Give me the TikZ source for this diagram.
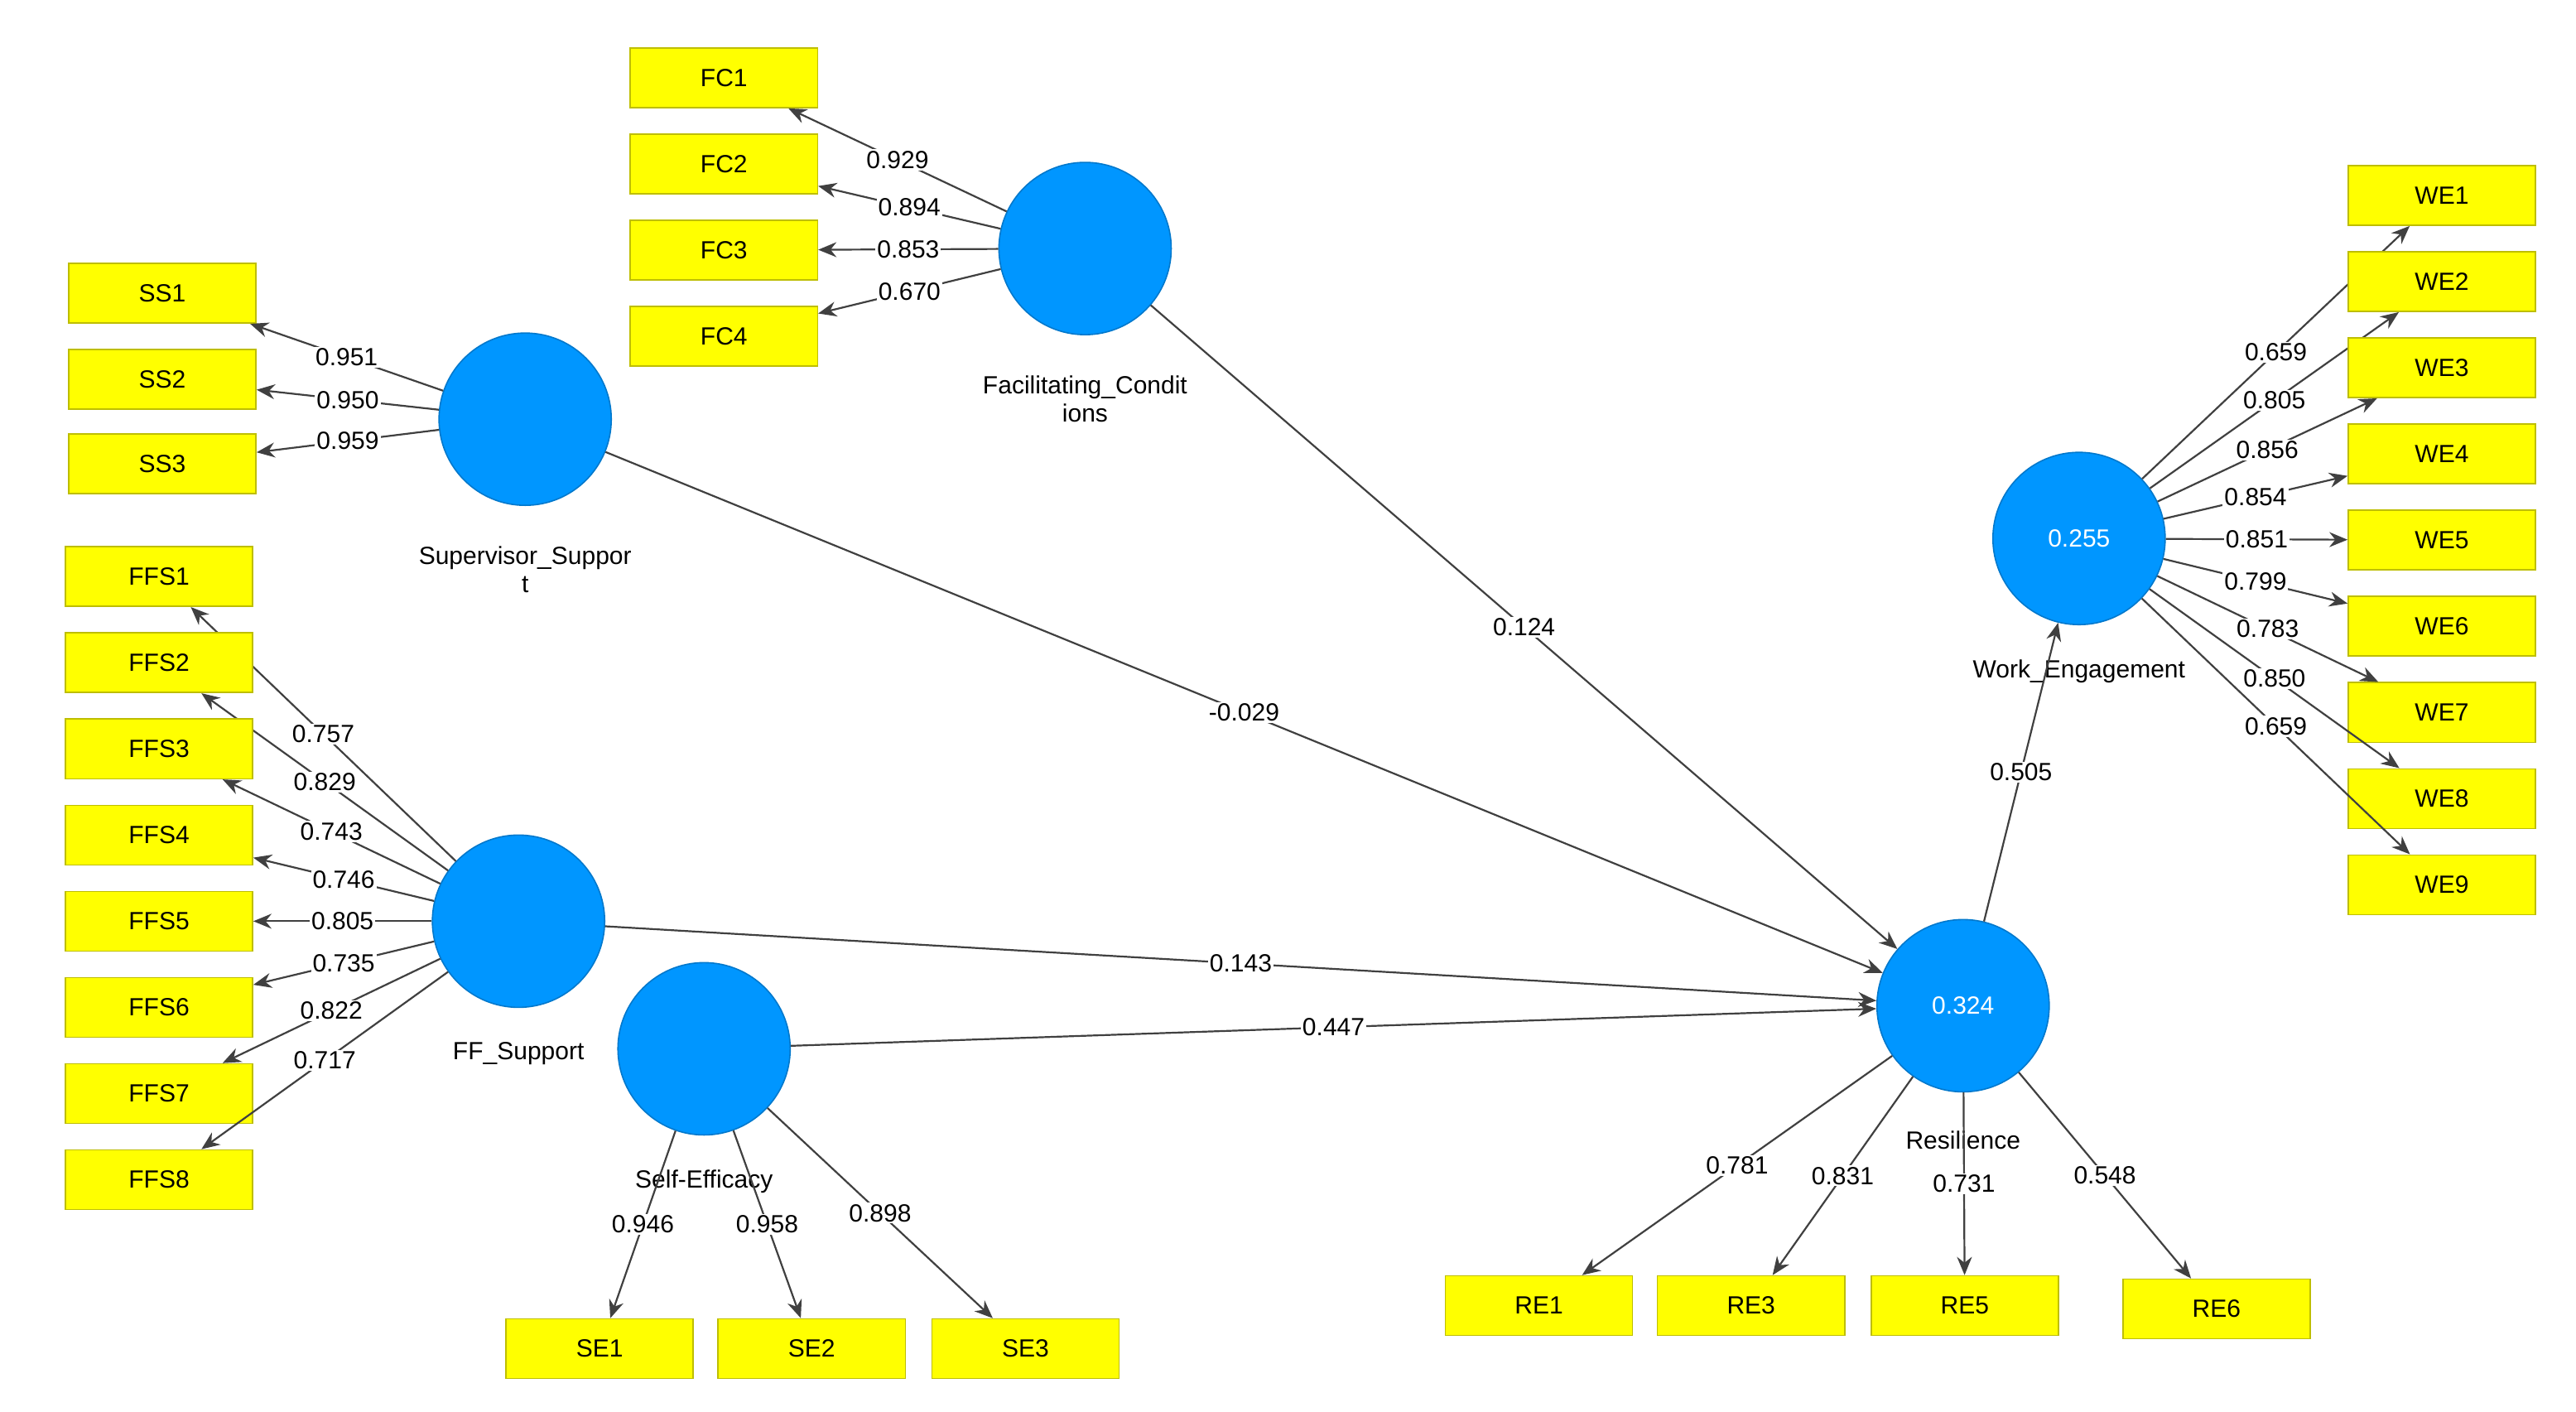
\documentclass[tikz,border=0pt]{standalone}
\usepackage{fontspec}
\setmainfont{Liberation Sans}
\usetikzlibrary{arrows.meta}
\definecolor{cblue}{RGB}{0,150,255}
\definecolor{cyel}{RGB}{255,255,0}
\definecolor{cyb}{RGB}{190,190,0}
\begin{document}
\begin{tikzpicture}[x=1pt,y=-1pt,
 lv/.style={circle,fill=cblue,draw=cblue!80!black,line width=0.8pt,minimum size=104pt,inner sep=0pt,text=white,font=\fontsize{15}{15}\selectfont},
 ind/.style={rectangle,fill=cyel,draw=cyb,line width=0.8pt,minimum width=113pt,minimum height=36pt,inner sep=0pt,font=\fontsize{15}{15}\selectfont},
 lab/.style={font=\fontsize{15}{17}\selectfont,align=center},
 ar/.style={draw=black!75,line width=1.1pt,-{Stealth[length=11pt,width=9pt]}},
 wl/.style={fill=white,inner sep=1pt,font=\fontsize{15}{15}\selectfont,midway}]
\useasboundingbox (0,0) rectangle (1555,852);
\node[lv] (FC) at (655,150) {};
\node[lv] (SS) at (317,253) {};
\node[lv] (FF) at (313,556) {};
\node[lv] (SE) at (425,633) {};
\node[lv] (RE) at (1185,607) {0.324};
\node[lv] (WE) at (1255,325) {0.255};
\node[lab] at (655,241) {Facilitating\_Condit\\ions};
\node[lab] at (317,344) {Supervisor\_Suppor\\t};
\node[lab] at (313,636) {FF\_Support};
\node[lab] at (425,713) {Self-Efficacy};
\node[lab] at (1185,688) {Resilience};
\node[lab] at (1255,405) {Work\_Engagement};
\foreach \i/\y/\v in {1/47/0.929,2/99/0.894,3/151/0.853,4/203/0.670}{
 \node[ind] (FC\i) at (437,\y) {FC\i};
 \draw[ar] (FC) -- (FC\i) node[wl] {\v};}
\foreach \i/\y/\v in {1/177/0.951,2/229/0.950,3/280/0.959}{
 \node[ind] (SS\i) at (98,\y) {SS\i};
 \draw[ar] (SS) -- (SS\i) node[wl] {\v};}
\foreach \i/\y/\v in {1/348/0.757,2/400/0.829,3/452/0.743,4/504/0.746,5/556/0.805,6/608/0.735,7/660/0.822,8/712/0.717}{
 \node[ind] (FFS\i) at (96,\y) {FFS\i};
 \draw[ar] (FF) -- (FFS\i) node[wl] {\v};}
\foreach \i/\x/\v in {1/362/0.946,2/490/0.958,3/619/0.898}{
 \node[ind] (SE\i) at (\x,814) {SE\i};
 \draw[ar] (SE) -- (SE\i) node[wl] {\v};}
\foreach \i/\x/\y/\v in {1/929/788/0.781,3/1057/788/0.831,5/1186/788/0.731,6/1338/790/0.548}{
 \node[ind] (RE\i) at (\x,\y) {RE\i};
 \draw[ar] (RE) -- (RE\i) node[wl] {\v};}
\foreach \i/\y/\v in {1/118/0.659,2/170/0.805,3/222/0.856,4/274/0.854,5/326/0.851,6/378/0.799,7/430/0.783,8/482/0.850,9/534/0.659}{
 \node[ind] (WE\i) at (1474,\y) {WE\i};
 \draw[ar] (WE) -- (WE\i) node[wl] {\v};}
\draw[ar] (SS) -- (RE) node[wl] {-0.029};
\draw[ar] (FC) -- (RE) node[wl] {0.124};
\draw[ar] (FF) -- (RE) node[wl] {0.143};
\draw[ar] (SE) -- (RE) node[wl] {0.447};
\draw[ar] (RE) -- (WE) node[wl] {0.505};
\end{tikzpicture}
\end{document}
